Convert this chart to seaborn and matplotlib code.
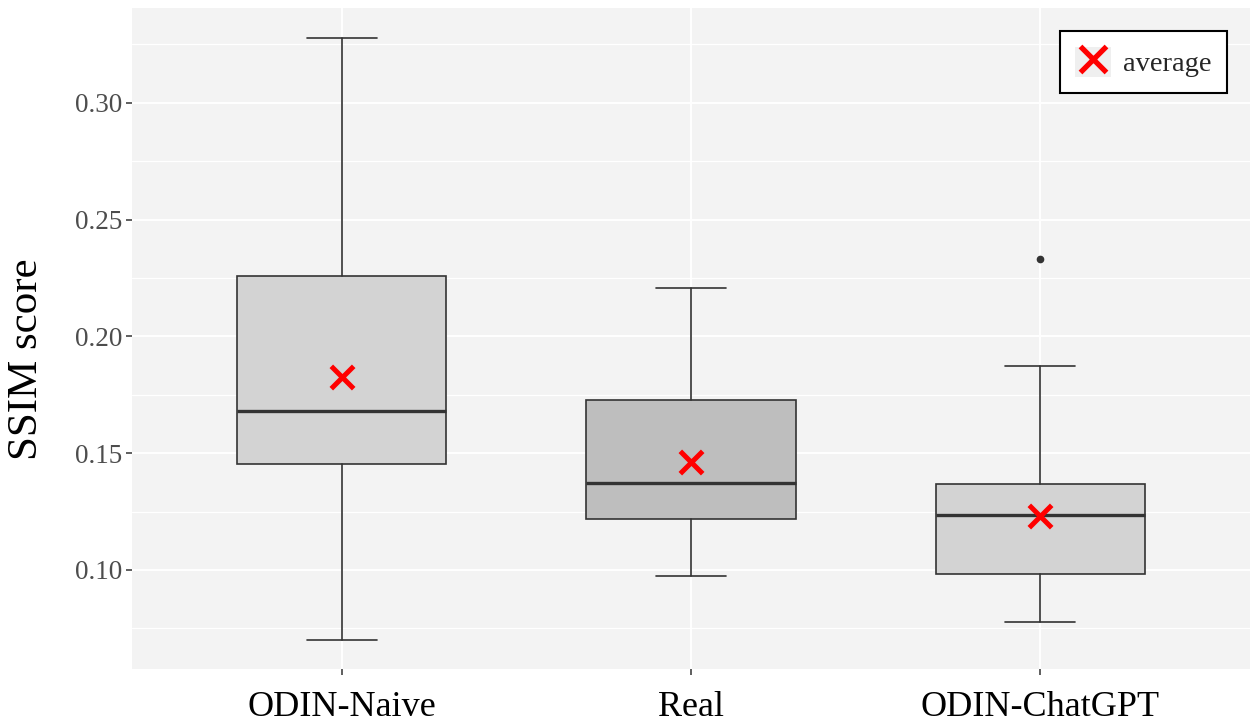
import numpy as np
import pandas as pd
import seaborn as sns
import matplotlib
matplotlib.use("Agg")
import matplotlib.pyplot as plt
from matplotlib.patches import Rectangle
from matplotlib.lines import Line2D
from matplotlib.ticker import MultipleLocator

# ---- data ----
categories = ["ODIN-Naive", "Real", "ODIN-ChatGPT"]
whisker_low = [0.0700, 0.0975, 0.0777]
q1 = [0.1452, 0.1217, 0.0984]
median = [0.1682, 0.1373, 0.1235]
q3 = [0.2258, 0.1727, 0.1367]
whisker_high = [0.3276, 0.2205, 0.1873]
outliers = [[], [], [0.2330]]
means = [0.1827, 0.1463, 0.1233]
box_fills = ["#D3D3D3", "#BEBEBE", "#D3D3D3"]

sns.set_theme(style="darkgrid")
plt.rcParams["font.family"] = ["Liberation Serif", "DejaVu Serif"]

fig = plt.figure(figsize=(12.56, 7.27), dpi=100)
ax = fig.add_axes([132 / 1256, 58 / 727, 1118 / 1256, 661.5 / 727])
ax.set_facecolor("#F3F3F3")

stats = []
for i, c in enumerate(categories):
    stats.append(dict(label=c, whislo=whisker_low[i], q1=q1[i], med=median[i],
                      q3=q3[i], whishi=whisker_high[i], fliers=outliers[i]))

edge = "#333333"
bp = ax.bxp(stats, positions=range(len(categories)), widths=0.6, capwidths=0.2,
            patch_artist=True, showfliers=True, manage_ticks=False, zorder=3,
            boxprops=dict(edgecolor=edge, linewidth=1.2),
            medianprops=dict(color=edge, linewidth=2.4),
            whiskerprops=dict(color=edge, linewidth=1.2),
            capprops=dict(color=edge, linewidth=1.2),
            flierprops=dict(marker="o", markerfacecolor=edge, markeredgecolor=edge,
                            markersize=4.5))
for patch, fc in zip(bp["boxes"], box_fills):
    patch.set_facecolor(fc)

mean_df = pd.DataFrame({"category": categories, "mean": means, "x": range(len(categories))})
sns.scatterplot(data=mean_df, x="x", y="mean", marker="x", s=260, color="red",
                linewidth=3.6, ax=ax, zorder=5, legend=False)

ax.set_xlim(-0.6, 2.6)
ax.set_ylim(0.0576, 0.3408)
ax.set_xticks(range(len(categories)))
ax.set_xticklabels(categories, fontsize=26, color="black")
ax.yaxis.set_minor_locator(MultipleLocator(0.025))
ax.set_yticks([0.10, 0.15, 0.20, 0.25, 0.30])
ax.set_yticklabels(["0.10", "0.15", "0.20", "0.25", "0.30"], fontsize=19.5, color="#4D4D4D")
ax.grid(which="major", color="white", linewidth=1.4)
ax.grid(which="minor", axis="y", color="white", linewidth=0.9)
ax.set_axisbelow(True)
ax.tick_params(axis="both", which="major", direction="out", length=4, width=1.1,
               color="#333333", bottom=True, left=True)
ax.tick_params(axis="both", which="minor", length=0)
ax.tick_params(axis="x", pad=12)
ax.tick_params(axis="y", pad=3)
for s in ax.spines.values():
    s.set_visible(False)
ax.set_xlabel("")
ax.set_ylabel("SSIM score", fontsize=31, color="black")
ax.yaxis.set_label_coords((46 - 132) / 1118, (669 - 359) / 661.5)

key_bg = Rectangle((0, 0), 1, 1, facecolor="#EFEFEF", edgecolor="none")
key_x = Line2D([], [], marker="x", color="red", linestyle="none",
               markersize=19, markeredgewidth=3.8)
leg = fig.legend([(key_bg, key_x)], ["average"], loc="upper right",
                 bbox_to_anchor=(1227 / 1256, 696 / 727), fontsize=20.5,
                 frameon=True, fancybox=False, framealpha=1, edgecolor="black",
                 handlelength=1.27, handleheight=1.27, handletextpad=0.4,
                 borderpad=0.55, borderaxespad=0)
leg.get_frame().set_linewidth(1.5)
leg.get_frame().set_facecolor("white")

fig.savefig("out.png", dpi=100)
